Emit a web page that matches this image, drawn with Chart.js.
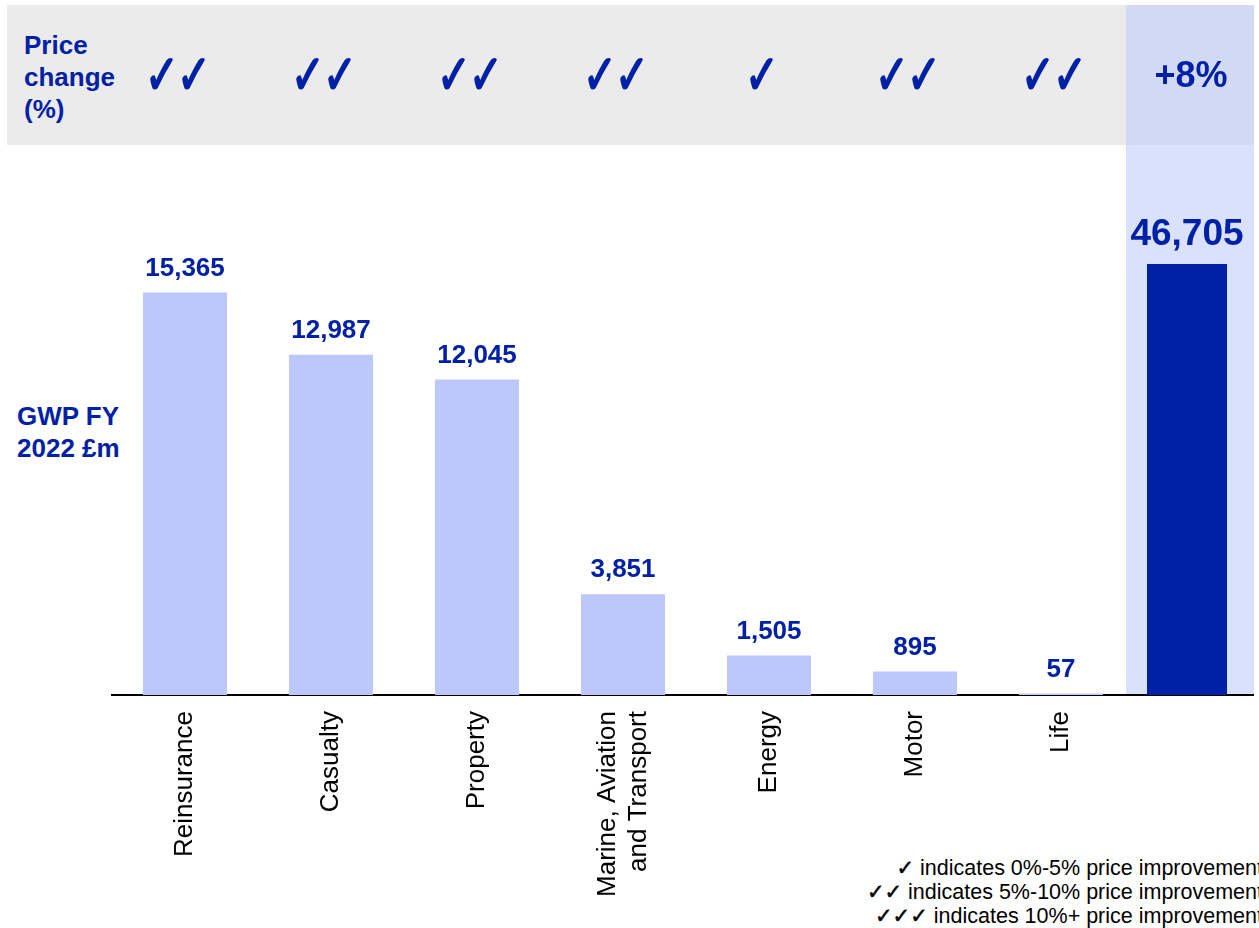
<!DOCTYPE html>
<html>
<head>
<meta charset="utf-8">
<script src="https://cdn.jsdelivr.net/npm/chart.js@4.4.1/dist/chart.umd.min.js"></script>
<style>
  html, body { margin:0; padding:0; width:1259px; height:928px; overflow:hidden; background:#fff; }
  body { position:relative; font-family:"Liberation Sans", Arial, "DejaVu Sans", sans-serif; }
  .band { position:absolute; }
  #greyBand { left:7px; top:5px; width:1119px; height:140px; background:#EBEBEB; }
  #totalHead { left:1126px; top:5px; width:128px; height:140px; background:#D1D9F3; }
  #totalCol { left:1126px; top:145px; width:128px; height:551px; background:#DAE1FC; }
  #priceTitle { position:absolute; left:24px; top:29px; font-weight:bold; font-size:26px; line-height:32px; color:#0021A5; }
  #gwpTitle { position:absolute; left:17px; top:400px; font-weight:bold; font-size:26px; line-height:32px; color:#0021A5; }
  #legend { position:absolute; right:-4px; top:856px; font-size:21.5px; line-height:24px; color:#000; text-align:right; white-space:nowrap; }
  #legend .ck { font-family:"DejaVu Sans", sans-serif; font-size:21px; -webkit-text-stroke:0.5px #000; }
  .wrap { position:absolute; top:0; height:928px; }
  canvas { display:block; }
</style>
</head>
<body>
<div class="band" id="greyBand"></div>
<div class="band" id="totalHead"></div>
<div class="band" id="totalCol"></div>
<div id="priceTitle">Price<br>change<br>(%)</div>
<div id="gwpTitle">GWP FY<br>2022 £m</div>
<div id="legend"></div>
<div class="wrap" style="left:0;width:1140px;"><canvas id="c1"></canvas></div>
<div class="wrap" style="left:1120px;width:134px;"><canvas id="c2"></canvas></div>
<script>
// ---- data ----
const categories = ['Reinsurance', 'Casualty', 'Property', ['Marine, Aviation', 'and Transport'], 'Energy', 'Motor', 'Life'];
const gwpValues = [15365, 12987, 12045, 3851, 1505, 895, 57];
const priceChangeMarks = ['✓✓', '✓✓', '✓✓', '✓✓', '✓', '✓✓', '✓✓'];
const totalCategory = ['Total'];
const totalGwp = [46705];
const totalPriceChange = ['+8%'];
const legendMarks = ['✓', '✓✓', '✓✓✓'];
const legendTexts = ['indicates 0%-5% price improvement', 'indicates 5%-10% price improvement', 'indicates 10%+ price improvement'];

// ---- legend ----
document.getElementById('legend').innerHTML = legendMarks.map((m, i) =>
  '<div><span class="ck">' + m + '</span> ' + legendTexts[i] + '</div>').join('');

const BLUE = '#0021A5';
const fmt = v => String(v).replace(/\B(?=(\d{3})+(?!\d))/g, ',');

const labelPlugin = {
  id: 'valueLabels',
  afterDatasetsDraw(chart, args, opts) {
    const ctx = chart.ctx;
    const meta = chart.getDatasetMeta(0);
    const vals = chart.data.datasets[0].data;
    ctx.save();
    ctx.fillStyle = BLUE;
    ctx.strokeStyle = BLUE;
    ctx.textAlign = 'center';
    ctx.textBaseline = 'alphabetic';
    ctx.font = opts.font;
    meta.data.forEach((bar, i) => {
      ctx.fillText(fmt(vals[i]), bar.x, bar.y - opts.gap);
    });
    // header row
    ctx.font = opts.headFont;
    ctx.textBaseline = 'middle';
    meta.data.forEach((bar, i) => {
      const txt = opts.head[i];
      const cx = bar.x + opts.headShift;
      if (opts.checks) {
        const chars = Array.from(txt);
        chars.forEach((ch, k) => {
          const x = cx + (k - (chars.length - 1) / 2) * opts.pitch;
          ctx.save();
          ctx.translate(x, opts.headY);
          ctx.scale(1, 1.35);
          ctx.lineWidth = 1.3;
          ctx.lineJoin = 'round';
          ctx.fillText(ch, 0, 0);
          ctx.strokeText(ch, 0, 0);
          ctx.restore();
        });
      } else {
        ctx.fillText(txt, cx, opts.headY);
      }
    });
    // category labels (rotated)
    if (opts.tickFont) {
      const xs = chart.scales.x;
      ctx.fillStyle = '#000';
      ctx.font = opts.tickFont;
      ctx.textAlign = 'right';
      ctx.textBaseline = 'middle';
      chart.data.labels.forEach((lab, i) => {
        const lines = Array.isArray(lab) ? lab : [lab];
        ctx.save();
        ctx.translate(xs.getPixelForTick(i), chart.chartArea.bottom + opts.tickPad);
        ctx.rotate(-Math.PI / 2);
        lines.forEach((ln, j) => ctx.fillText(ln, 0, (j - (lines.length - 1) / 2) * opts.tickLine));
        ctx.restore();
      });
    }
    ctx.restore();
  }
};

const fitX = h => function (scale) { scale.height = h; };

new Chart(document.getElementById('c1'), {
  type: 'bar',
  data: {
    labels: categories,
    datasets: [{ data: gwpValues, backgroundColor: '#BCC8FC', borderWidth: 0,
      categoryPercentage: 1, barPercentage: 84 / 146 }]
  },
  options: {
    responsive: true, maintainAspectRatio: false, animation: false,
    layout: { padding: { left: 112, right: 6, top: 145, bottom: 0 } },
    plugins: {
      legend: { display: false }, tooltip: { enabled: false },
      valueLabels: { font: 'bold 26px "Liberation Sans", Arial, sans-serif', gap: 17,
        headFont: '41px "DejaVu Sans", sans-serif', head: priceChangeMarks, headShift: -7, headY: 80,
        checks: true, pitch: 32,
        tickFont: '26px "Liberation Sans", Arial, sans-serif', tickPad: 16, tickLine: 31 }
    },
    scales: {
      x: {
        grid: { display: false, drawTicks: false },
        border: { display: true, color: '#000', width: 2 },
        ticks: { display: false },
        afterFit: fitX(233)
      },
      y: { display: false, min: 0, max: 21000 }
    }
  },
  plugins: [labelPlugin]
});

new Chart(document.getElementById('c2'), {
  type: 'bar',
  data: {
    labels: totalCategory,
    datasets: [{ data: totalGwp, backgroundColor: '#0021A5', borderWidth: 0,
      categoryPercentage: 1, barPercentage: 80 / 134 }]
  },
  options: {
    responsive: true, maintainAspectRatio: false, animation: false,
    layout: { padding: { left: 0, right: 0, top: 145, bottom: 0 } },
    plugins: {
      legend: { display: false }, tooltip: { enabled: false },
      valueLabels: { font: 'bold 37px "Liberation Sans", Arial, sans-serif', gap: 19,
        headFont: 'bold 36px "Liberation Sans", Arial, sans-serif', head: totalPriceChange, headShift: 4, headY: 77,
        checks: false }
    },
    scales: {
      x: {
        grid: { display: false, drawTicks: false },
        border: { display: true, color: '#000', width: 2 },
        ticks: { display: false },
        afterFit: fitX(233)
      },
      y: { display: false, min: 0, max: 59600 }
    }
  },
  plugins: [labelPlugin]
});
</script>
</body>
</html>
